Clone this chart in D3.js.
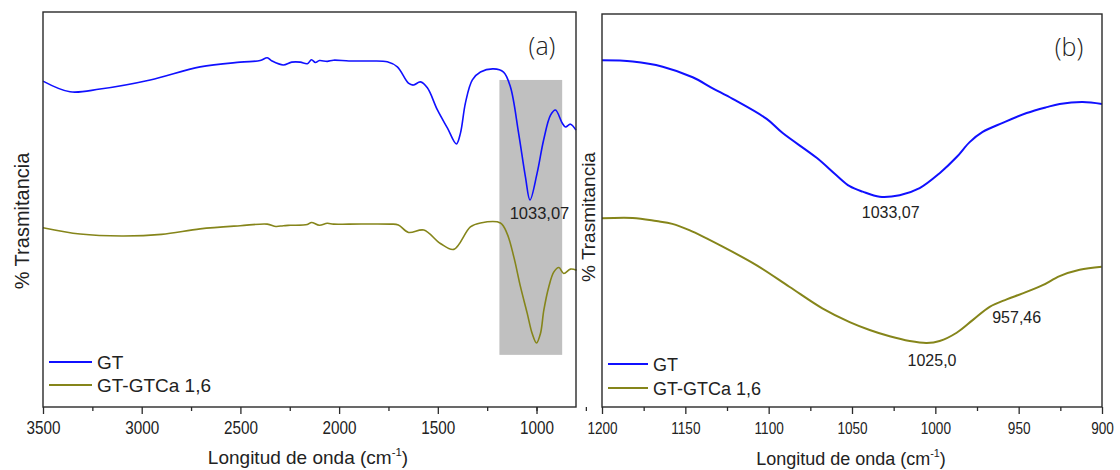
<!DOCTYPE html>
<html>
<head>
<meta charset="utf-8">
<script src="https://cdn.jsdelivr.net/npm/d3@7/dist/d3.min.js"></script>
<style>
  html, body { margin: 0; padding: 0; background: #ffffff; }
  svg { display: block; }
  text { font-family: "Liberation Sans", Arial, sans-serif; fill: #222; }
</style>
</head>
<body>
<svg id="chart" width="1120" height="470"></svg>
<script>
// ---- Panel (a): full FTIR spectra, 3500–800 cm-1 ----
const gtWaveA = [3500, 3363, 3211, 2957, 2704, 2501, 2400, 2364, 2340, 2283, 2240, 2197, 2161, 2140, 2120, 2100, 2060, 2029, 1950, 1850, 1756, 1705, 1649, 1624, 1588, 1553, 1502, 1451, 1406, 1385, 1360, 1325, 1284, 1218, 1167, 1132, 1091, 1056, 1033, 997, 964, 929, 904, 870, 853, 828, 800];
const gtValA  = [82.5, 79.8, 80.5, 82.8, 86.1, 87.3, 87.7, 88.4, 87.6, 86.6, 87.3, 87.3, 86.9, 87.9, 87.2, 87.7, 87.5, 87.8, 87.6, 87.6, 87.4, 86.1, 82.0, 81.5, 82.3, 80.8, 75.2, 70.6, 66.6, 69.4, 77.0, 82.8, 84.8, 85.6, 84.8, 81.0, 69.4, 58.2, 52.4, 59.2, 67.6, 73.9, 75.2, 71.9, 70.9, 71.6, 70.1];

const gtcaWaveA = [3500, 3312, 3100, 2900, 2704, 2501, 2364, 2320, 2283, 2247, 2161, 2140, 2100, 2060, 2029, 1950, 1740, 1700, 1648, 1571, 1487, 1419, 1335, 1284, 1183, 1149, 1115, 1081, 1047, 1022, 1000, 980, 963, 938, 912, 887, 862, 828, 797];
const gtcaValA  = [45.4, 43.8, 43.3, 43.7, 45.1, 45.9, 46.3, 45.7, 45.9, 46.0, 46.2, 46.7, 46.0, 46.5, 46.3, 46.3, 46.3, 46.1, 44.2, 44.8, 41.4, 39.9, 45.6, 46.6, 46.6, 43.9, 38.0, 30.4, 23.7, 18.6, 16.2, 18.6, 24.5, 30.4, 34.2, 35.3, 33.8, 34.9, 34.6];

const ticksMajorA = [3500, 3000, 2500, 2000, 1500, 1000];
const ticksMinorA = [3250, 2750, 2250, 1750, 1250, 1000, 750];
const bandA = [1188, 870];          // shaded region expanded in panel (b)
const peakLabelA = ["1033,07"];

// ---- Panel (b): 1200–900 cm-1 detail ----
const gtWaveB = [1200, 1181.6, 1163.6, 1145.6, 1133.6, 1121.6, 1101.2, 1091.6, 1071.2, 1059.2, 1051.4, 1043.6, 1033.4, 1021.4, 1009.4, 997.4, 987.2, 979.4, 971.6, 959.6, 945.2, 933.2, 925.4, 911.6, 900];
const gtValB  = [88.2, 87.9, 86.6, 83.9, 81.1, 78.4, 73.3, 69.7, 63.4, 58.9, 56.2, 54.8, 53.5, 53.9, 55.7, 59.5, 63.6, 67.4, 70.0, 72.3, 74.8, 76.3, 77.1, 77.6, 77.1];

const gtcaWaveB = [1200, 1181.6, 1167.4, 1157.8, 1147.6, 1127.6, 1107.4, 1087.6, 1067.8, 1051.4, 1039.4, 1027.4, 1015.4, 1005.2, 997.4, 987.2, 977.6, 967.4, 957.2, 947.6, 935.6, 925.4, 913.4, 900.2];
const gtcaValB  = [48.0, 48.1, 47.3, 46.6, 45.0, 40.8, 36.1, 30.6, 25.1, 21.6, 19.6, 18.0, 16.8, 16.3, 16.8, 18.9, 22.1, 25.5, 27.4, 28.9, 31.0, 33.3, 34.9, 35.7];

const ticksMajorB = [1200, 1150, 1100, 1050, 1000, 950, 900];
const ticksMinorB = [1175, 1125, 1075, 1025, 975, 925];
const peakLabelsB = ["1033,07", "1025,0", "957,46"];

const seriesNames = ["GT", "GT-GTCa 1,6"];
const seriesColors = ["#1010ff", "#85851a"];

// ---- drawing ----
const svg = d3.select("#chart");

function panel(cfg) {
  const x = d3.scaleLinear().domain(cfg.xDomain).range([cfg.left, cfg.right]);
  const y = d3.scaleLinear().domain([0, 100]).range([cfg.bottom, cfg.top]);
  const g = svg.append("g");

  if (cfg.band) {
    g.append("rect")
      .attr("x", x(cfg.band[0])).attr("width", x(cfg.band[1]) - x(cfg.band[0]))
      .attr("y", y(cfg.bandY[1])).attr("height", y(cfg.bandY[0]) - y(cfg.bandY[1]))
      .attr("fill", "#c0c0c0");
  }

  const line = d3.line()
    .x(d => x(d[0])).y(d => y(d[1]))
    .curve(d3.curveCatmullRom.alpha(0.5));

  cfg.series.forEach((s, i) => {
    const pts = d3.zip(s.w, s.v);
    g.append("path").datum(pts)
      .attr("d", line)
      .attr("fill", "none")
      .attr("stroke", seriesColors[i])
      .attr("stroke-width", cfg.lineWidth)
      .attr("stroke-linejoin", "round");
  });

  // frame
  g.append("rect")
    .attr("x", cfg.left).attr("y", cfg.top)
    .attr("width", cfg.right - cfg.left).attr("height", cfg.bottom - cfg.top)
    .attr("fill", "none").attr("stroke", "#2a2a2a").attr("stroke-width", 1.4);

  // minor ticks
  const minor = g.append("g").attr("transform", `translate(0,${cfg.bottom})`)
    .call(d3.axisBottom(x).tickValues(cfg.minor).tickSize(4).tickFormat(""));
  minor.select(".domain").remove();
  minor.selectAll("line").attr("stroke", "#2a2a2a").attr("stroke-width", 1.3);

  // major ticks + labels
  const major = g.append("g").attr("transform", `translate(0,${cfg.bottom})`)
    .call(d3.axisBottom(x).tickValues(cfg.major).tickSize(7).tickFormat(d3.format("d")));
  major.select(".domain").remove();
  major.selectAll("line").attr("stroke", "#2a2a2a").attr("stroke-width", 1.3);
  major.selectAll("text")
    .attr("y", null).attr("dy", null)
    .attr("transform", `translate(0,${cfg.tickBase}) scale(1,${cfg.tickStretch})`)
    .style("font-size", cfg.tickFont + "px")
    .style("font-family", '"Liberation Sans", Arial, sans-serif')
    .attr("fill", "#222");

  // axis titles
  const xt = g.append("text")
    .attr("x", cfg.xTitleX).attr("y", cfg.xTitleY)
    .attr("text-anchor", "middle")
    .style("font-size", cfg.xTitleFont + "px");
  xt.append("tspan").text("Longitud de onda (cm");
  xt.append("tspan").text("-1").attr("dy", -8).style("font-size", (cfg.xTitleFont * 0.6) + "px");
  xt.append("tspan").text(")").attr("dy", 8);

  g.append("text")
    .attr("transform", `translate(${cfg.yTitleX},${cfg.yTitleY}) rotate(-90)`)
    .attr("text-anchor", "middle")
    .style("font-size", cfg.yTitleFont + "px")
    .text("% Trasmitancia");

  // panel letter
  g.append("text")
    .attr("x", cfg.letterX).attr("y", cfg.letterY)
    .attr("text-anchor", "middle")
    .style("font-family", '"Open Sans", "Liberation Sans", sans-serif')
    .style("font-weight", 300)
    .style("font-size", "25px")
    .text(cfg.letter);

  // peak annotations
  cfg.notes.forEach(n => {
    g.append("text")
      .attr("x", x(n.w)).attr("y", y(n.v))
      .attr("text-anchor", "middle")
      .style("font-size", cfg.noteFont + "px")
      .attr("fill", "#333")
      .text(n.t);
  });

  // legend
  const leg = g.append("g");
  seriesNames.forEach((name, i) => {
    const ly = cfg.legendY + i * cfg.legendGap;
    leg.append("line")
      .attr("x1", cfg.legendX).attr("x2", cfg.legendX + cfg.legendLen)
      .attr("y1", ly).attr("y2", ly)
      .attr("stroke", seriesColors[i]).attr("stroke-width", 2);
    leg.append("text")
      .attr("x", cfg.legendX + cfg.legendLen + 5).attr("y", ly + 6.5)
      .style("font-size", cfg.legendFont + "px")
      .text(name);
  });
}

panel({
  xDomain: [3500, 800], left: 43, right: 576, top: 12, bottom: 407,
  series: [{ w: gtWaveA, v: gtValA }, { w: gtcaWaveA, v: gtcaValA }],
  band: bandA, bandY: [13.2, 82.8],
  lineWidth: 1.6,
  major: ticksMajorA, minor: ticksMinorA,
  tickBase: 27, tickFont: 15.3, tickStretch: 1.15,
  xTitleX: 308, xTitleY: 464, xTitleFont: 19,
  yTitleX: 29, yTitleY: 221, yTitleFont: 20,
  letter: "(a)", letterX: 542, letterY: 55,
  notes: [{ t: peakLabelA[0], w: 985, v: 47.6 }],
  noteFont: 16.5,
  legendX: 49, legendLen: 43, legendY: 362, legendGap: 23, legendFont: 19
});

panel({
  xDomain: [1200, 900], left: 602, right: 1102, top: 14, bottom: 407,
  series: [{ w: gtWaveB, v: gtValB }, { w: gtcaWaveB, v: gtcaValB }],
  lineWidth: 2,
  major: ticksMajorB, minor: ticksMinorB,
  tickBase: 27, tickFont: 13.6, tickStretch: 1.2,
  xTitleX: 851, xTitleY: 465, xTitleFont: 18,
  yTitleX: 595, yTitleY: 217, yTitleFont: 19,
  letter: "(b)", letterX: 1069, letterY: 56,
  notes: [
    { t: peakLabelsB[0], w: 1026.8, v: 48.0 },
    { t: peakLabelsB[1], w: 1002, v: 10.4 },
    { t: peakLabelsB[2], w: 951.2, v: 21.4 }
  ],
  noteFont: 16,
  legendX: 608, legendLen: 40, legendY: 364, legendGap: 24, legendFont: 18
});
</script>
</body>
</html>
